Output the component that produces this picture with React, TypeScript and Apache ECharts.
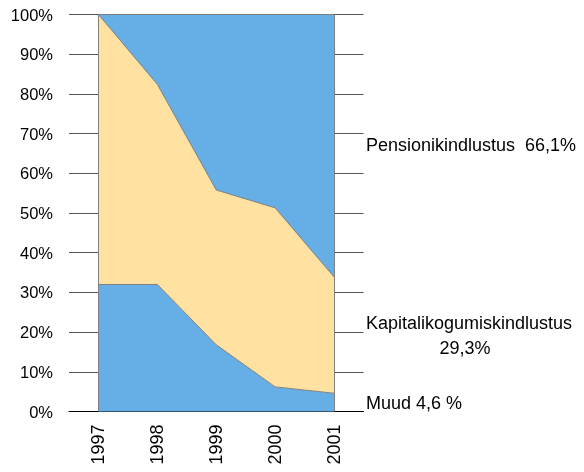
import React, { useEffect, useRef } from "react";
import * as echarts from "echarts";

const years = ["1997", "1998", "1999", "2000", "2001"];
const muud = [32, 32, 16.8, 6.2, 4.6];
const kapital = [68, 50.4, 39, 45.1, 29.3];
const pension = [0, 17.6, 44.2, 48.7, 66.1];
const yTicks = [0, 10, 20, 30, 40, 50, 60, 70, 80, 90, 100];

const labelPension = "Pensionikindlustus  66,1%";
const labelKapital = "Kapitalikogumiskindlustus";
const labelKapitalValue = "29,3%";
const labelMuud = "Muud 4,6 %";

const BLUE = "#66AEE6";
const YELLOW = "#FFE1A1";
const EDGE = "#808080";
const FONT = "'Liberation Sans', Arial, sans-serif";

export default function App() {
  const ref = useRef<HTMLDivElement>(null);
  useEffect(() => {
    if (!ref.current) return;
    const chart = echarts.init(ref.current, undefined, { renderer: "svg" });
    const areaSeries = (name: string, data: number[], color: string, extra: any = {}) => ({
      name,
      type: "line",
      stack: "total",
      data,
      symbol: "none",
      lineStyle: { color: EDGE, width: 1 },
      areaStyle: { color, opacity: 1 },
      itemStyle: { color },
      ...extra,
    });
    chart.setOption({
      animation: false,
      grid: { left: 69, right: 220.5, top: 14.5, bottom: 60.5, containLabel: false },
      xAxis: {
        type: "category",
        data: years,
        boundaryGap: true,
        axisLine: { show: true, lineStyle: { color: "#000", width: 1 } },
        axisTick: { show: false },
        axisLabel: { rotate: 90, margin: 13, color: "#000", fontSize: 18, fontFamily: FONT },
        splitLine: { show: false },
      },
      yAxis: {
        type: "value",
        min: yTicks[0],
        max: yTicks[yTicks.length - 1],
        interval: 10,
        axisLine: { show: false },
        axisTick: { show: false },
        axisLabel: {
          formatter: (v: number) => `${v}%`,
          margin: 16,
          color: "#000",
          fontSize: 16.5,
          fontFamily: FONT,
        },
        splitLine: { show: true, lineStyle: { color: "#555", width: 1 } },
      },
      series: [
        areaSeries("Muud", muud, BLUE),
        areaSeries("Kapitalikogumiskindlustus", kapital, YELLOW),
        areaSeries("Pensionikindlustus", pension, BLUE, {
          markLine: {
            silent: true,
            symbol: "none",
            label: { show: false },
            lineStyle: { color: EDGE, width: 1, type: "solid" },
            data: [{ xAxis: years[0] }, { xAxis: years[years.length - 1] }],
          },
        }),
      ],
      graphic: [
        {
          type: "text",
          x: 366,
          y: 145,
          style: { text: labelPension, fill: "#000", font: `18px ${FONT}`, verticalAlign: "middle" },
        },
        {
          type: "text",
          x: 366,
          y: 323,
          style: { text: labelKapital, fill: "#000", font: `18px ${FONT}`, verticalAlign: "middle" },
        },
        {
          type: "text",
          x: 465,
          y: 348,
          style: {
            text: labelKapitalValue,
            fill: "#000",
            font: `18px ${FONT}`,
            verticalAlign: "middle",
            align: "center",
          },
        },
        {
          type: "text",
          x: 366,
          y: 403,
          style: { text: labelMuud, fill: "#000", font: `18px ${FONT}`, verticalAlign: "middle" },
        },
      ],
    });
    return () => chart.dispose();
  }, []);
  return <div ref={ref} style={{ position: "fixed", left: 0, top: 0, width: 584, height: 472 }} />;
}
